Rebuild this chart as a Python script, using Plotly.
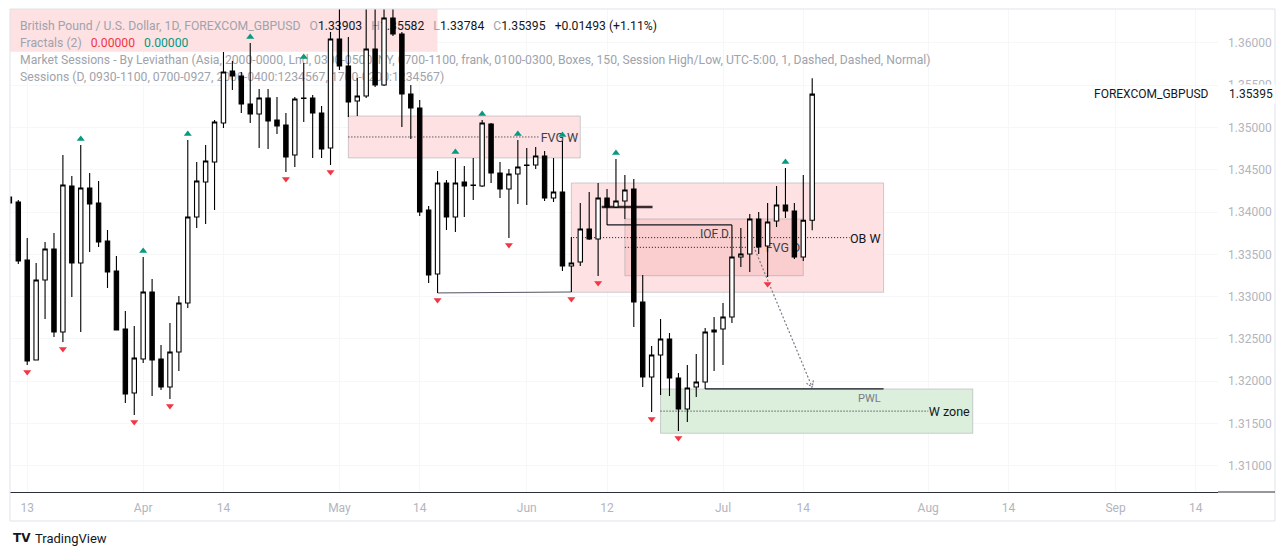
import math
import pandas as pd
import plotly.graph_objects as go

# ---------------- data (daily bars, FOREXCOM:GBPUSD) ----------------
open_ = [1.34178, 1.34119, 1.33433, 1.32250, 1.33196, 1.33563, 1.32581, 1.34308, 1.33397, 1.34285,
         1.34107, 1.33658, 1.33303, 1.32617, 1.31860, 1.32262, 1.33054, 1.32262, 1.31930, 1.32345,
         1.32924, 1.33942, 1.34356, 1.34592, 1.35054, 1.35669, 1.35610, 1.35278, 1.35160, 1.35349,
         1.35089, 1.35030, 1.34675, 1.35343, 1.35349, 1.35172, 1.34758, 1.36047, 1.35728, 1.35314,
         1.35373, 1.35929, 1.35503, 1.36296, 1.36106, 1.35397, 1.35231, 1.34024, 1.33267, 1.34344,
         1.33942, 1.34356, 1.34314, 1.34308, 1.35042, 1.34462, 1.34273, 1.34450, 1.34551, 1.34557,
         1.34663, 1.34166, 1.34237, 1.33362, 1.33409, 1.33800, 1.33681, 1.34166, 1.34060, 1.34131,
         1.34273, 1.32936, 1.32049, 1.32309, 1.32498, 1.32037, 1.31670, 1.31930, 1.31990, 1.32581,
         1.32617, 1.32759, 1.33468, 1.33504, 1.33918, 1.33599, 1.33894, 1.34084, 1.34013, 1.33468,
         1.33903]
high = [1.34190, 1.34143, 1.33693, 1.33397, 1.33646, 1.33752, 1.34675, 1.34427, 1.34793, 1.34462,
        1.34367, 1.33788, 1.33480, 1.32830, 1.32652, 1.33468, 1.33208, 1.32427, 1.32688, 1.33007,
        1.34852, 1.34592, 1.34793, 1.35089, 1.35894, 1.35787, 1.35657, 1.36000, 1.35456, 1.35456,
        1.35361, 1.35172, 1.35361, 1.35763, 1.35385, 1.35255, 1.36130, 1.36450, 1.36071, 1.35586,
        1.36450, 1.36450, 1.36450, 1.36450, 1.36130, 1.35503, 1.35326, 1.34072, 1.34486, 1.34379,
        1.34640, 1.34545, 1.34640, 1.35089, 1.35054, 1.34592, 1.34509, 1.34852, 1.34758, 1.34770,
        1.34722, 1.34640, 1.34841, 1.33705, 1.34107, 1.34237, 1.34344, 1.34273, 1.34628, 1.34438,
        1.34391, 1.33256, 1.32415, 1.32735, 1.32569, 1.32096, 1.32191, 1.32321, 1.32628, 1.32759,
        1.32924, 1.33847, 1.33811, 1.33977, 1.34001, 1.34107, 1.34308, 1.34521, 1.34107, 1.34438,
        1.35582]
low = [1.34095, 1.33386, 1.32191, 1.32245, 1.32735, 1.32522, 1.32463, 1.32995, 1.32581, 1.33528,
       1.33587, 1.33102, 1.32600, 1.31741, 1.31599, 1.32214, 1.31824, 1.31895, 1.31789, 1.32120,
       1.32865, 1.33811, 1.33859, 1.34024, 1.34994, 1.35444, 1.35172, 1.35054, 1.34758, 1.34746,
       1.34923, 1.34474, 1.34533, 1.35065, 1.34640, 1.34640, 1.34557, 1.35681, 1.35125, 1.35136,
       1.35349, 1.35479, 1.35491, 1.36083, 1.35006, 1.34864, 1.33953, 1.33161, 1.33043, 1.33788,
       1.33764, 1.33942, 1.34143, 1.34296, 1.34344, 1.34166, 1.33693, 1.34095, 1.34084, 1.34509,
       1.34131, 1.34119, 1.33303, 1.33054, 1.33362, 1.33670, 1.33244, 1.33847, 1.34048, 1.33918,
       1.32640, 1.31930, 1.31635, 1.31836, 1.31824, 1.31410, 1.31516, 1.31812, 1.31907, 1.32120,
       1.32191, 1.32688, 1.33350, 1.33291, 1.33504, 1.33232, 1.33823, 1.33930, 1.33445, 1.33421,
       1.33784]
close = [1.34107, 1.33421, 1.32238, 1.33196, 1.33563, 1.32581, 1.34320, 1.33397, 1.34285, 1.34095,
         1.33646, 1.33291, 1.32605, 1.31848, 1.32274, 1.33054, 1.32250, 1.31930, 1.32345, 1.32924,
         1.33942, 1.34367, 1.34604, 1.35065, 1.35657, 1.35610, 1.35278, 1.35160, 1.35349, 1.35077,
         1.35018, 1.34651, 1.35338, 1.35349, 1.35172, 1.34746, 1.36047, 1.35728, 1.35302, 1.35373,
         1.35929, 1.35503, 1.36296, 1.36106, 1.35397, 1.35231, 1.34001, 1.33256, 1.34344, 1.33942,
         1.34344, 1.34308, 1.34320, 1.35054, 1.34462, 1.34273, 1.34450, 1.34533, 1.34557, 1.34663,
         1.34166, 1.34237, 1.33362, 1.33397, 1.33800, 1.33681, 1.34166, 1.34060, 1.34131, 1.34261,
         1.32936, 1.32049, 1.32309, 1.32498, 1.32037, 1.31670, 1.31919, 1.31990, 1.32581, 1.32605,
         1.32759, 1.33468, 1.33504, 1.33918, 1.33587, 1.33882, 1.34084, 1.34013, 1.33468, 1.33902,
         1.35395]

# trading-day calendar (bars + empty future space on the right)
first_session = "2026-03-11"
calendar = pd.bdate_range(first_session, periods=140)
tick_dates = ["2026-03-13", "2026-04-01", "2026-04-14", "2026-05-01", "2026-05-14", "2026-06-01",
              "2026-06-12", "2026-07-01", "2026-07-14", "2026-08-03", "2026-08-14", "2026-09-01",
              "2026-09-14"]
tick_labels = ["13", "Apr", "14", "May", "14", "Jun", "12", "Jul", "14", "Aug", "14", "Sep", "14"]
price_ticks = [1.31, 1.315, 1.32, 1.325, 1.33, 1.335, 1.34, 1.345, 1.35, 1.355, 1.36]

# Williams fractal bars (bar index)
fractal_up = [8, 15, 20, 27, 33, 50, 53, 57, 62, 68, 87]
fractal_down = [2, 6, 14, 18, 31, 36, 48, 56, 63, 66, 72, 75, 85]

# zone drawings: (first bar, last bar, top price, bottom price)
legend_zone = (-5, 48, 1.37000, 1.35897)
fvg_w = (38, 64, 1.35136, 1.34640)
ob_w = (63, 98, 1.34344, 1.33051)
fvg_d = (69, 89, 1.33918, 1.33247)
w_zone = (73, 108, low[78], 1.31383)
pwl_span = (78, 98)
sweep_bars = (48, 63)
iof_bars = (67, 81)
session_line = (66.4, 72.1, close[67])
arrow_from = (83.6, 1.33551)
arrow_to = (90.0, 1.31927)

# ---------------- layout geometry ----------------
# the page body has an 8px margin, so the figure is a bit smaller than the window
BODY = 8
W, H = 1270, 540
ML, MR, MT, MB = 2, 60, 1, 56
PW, PH = W - ML - MR, H - MT - MB
PL, PT = ML + BODY, MT + BODY          # window position of plot top-left
x_range = [0.07, 135.49]
y_range = [1.30688, 1.36402]
ppx = PW / (x_range[1] - x_range[0])      # pixels per bar
ppy = PH / (y_range[1] - y_range[0])      # pixels per price unit

FONT = "Roboto"
DARK = "#131722"
GREY = "#a0a3ab"
RED = "#f23645"
GREEN = "#089981"
PINK = "#fde1e3"
PINK2 = "#facdce"
ZGREEN = "#dcefdc"
BORDER = "rgba(150,150,160,0.45)"

pos = {d.strftime("%Y-%m-%d"): k for k, d in enumerate(calendar)}
tickvals = [pos[d] for d in tick_dates]
xs = list(range(len(open_)))


def px2paper_x(px):
    return (px - PL) / PW


def px2paper_y(py):
    return (PT + PH - py) / PH


def px2bar(px):
    return x_range[0] + (px - PL) / ppx


def py2price(py):
    return y_range[1] - (py - PT) / ppy


shapes = []


def zone(z, fill, line=True):
    x0, x1, top, bot = z
    shapes.append(dict(type="rect", xref="x", yref="y", x0=x0, x1=x1, y0=bot, y1=top,
                       fillcolor=fill, layer="between",
                       line=dict(color=BORDER if line else "rgba(0,0,0,0)", width=1 if line else 0)))


def seg(x0, y0, x1, y1, color=DARK, width=1, dash="solid"):
    shapes.append(dict(type="line", xref="x", yref="y", x0=x0, x1=x1, y0=y0, y1=y1,
                       layer="between", line=dict(color=color, width=width, dash=dash)))


def hline(x0, x1, y, color=DARK, width=1, dash="solid"):
    seg(x0, y, x1, y, color, width, dash)


def label_right(x_right, y, text, size=13, color=DARK):
    shapes.append(dict(type="rect", xref="x", yref="y", x0=x_right - 1, x1=x_right,
                       y0=y - 0.0002, y1=y + 0.0002, fillcolor="rgba(0,0,0,0)",
                       line=dict(width=0), layer="between",
                       label=dict(text=text, textposition="middle right", padding=0,
                                  font=dict(family=FONT, size=size, color=color))))


def legend_line(py, text, size=12.2):
    shapes.append(dict(type="rect", xref="x", yref="y",
                       x0=px2bar(16), x1=px2bar(1000),
                       y0=py2price(py + 6), y1=py2price(py - 6),
                       fillcolor="rgba(0,0,0,0)", line=dict(width=0), layer="between",
                       label=dict(text=text, textposition="middle left", padding=1,
                                  font=dict(family=FONT, size=size, color=GREY))))


DOT = "1px,2px"

# zones
zone(legend_zone, PINK, line=False)
zone(fvg_w, PINK)
zone(ob_w, PINK)
zone(fvg_d, PINK2)
zone(w_zone, ZGREEN)

# mid lines of zones (dotted) and labels
hline(fvg_w[0], 59.3, (fvg_w[2] + fvg_w[3]) / 2, dash=DOT)
label_right(64.1, (fvg_w[2] + fvg_w[3]) / 2, "FVG W", size=12.5, color="#3b3f4a")
hline(63.2, 94.2, (ob_w[2] + ob_w[3]) / 2, dash=DOT)
label_right(98.0, (ob_w[2] + ob_w[3]) / 2, "OB W", size=12.5)
hline(fvg_d[0], 84.1, (fvg_d[2] + fvg_d[3]) / 2, dash=DOT)
label_right(89.0, (fvg_d[2] + fvg_d[3]) / 2, "FVG D", size=12.5, color="#3b3f4a")
hline(w_zone[0], 103.0, (w_zone[2] + w_zone[3]) / 2, dash=DOT)
label_right(108.0, (w_zone[2] + w_zone[3]) / 2, "W zone", size=12.5)

# structure lines
seg(sweep_bars[0], low[sweep_bars[0]], sweep_bars[1], low[sweep_bars[1]], color="#50535e", width=1)
hline(iof_bars[0], iof_bars[1], low[iof_bars[0]], color=DARK, width=1.3)
label_right(81.0, 1.33752, "IOF D", size=12, color="#3b3f4a")
hline(session_line[0], session_line[1], session_line[2], color="#3a2c2c", width=2.6)
hline(pwl_span[0], pwl_span[1], low[pwl_span[0]], color=DARK, width=1.3)
label_right(98.0, low[pwl_span[0]] - 9 / ppy, "PWL", size=11, color="#787b86")

# dotted arrow
seg(arrow_from[0], arrow_from[1], arrow_to[0], arrow_to[1], color="#787b86", width=1.2, dash="2px,2px")
dxp = (arrow_to[0] - arrow_from[0]) * ppx
dyp = -(arrow_to[1] - arrow_from[1]) * ppy
ln = (dxp ** 2 + dyp ** 2) ** 0.5
ux, uy = dxp / ln, dyp / ln
for ang in (math.radians(32), -math.radians(32)):
    rx = ux * math.cos(ang) - uy * math.sin(ang)
    ry = ux * math.sin(ang) + uy * math.cos(ang)
    hx = arrow_to[0] - 7 * rx / ppx
    hy = arrow_to[1] + 7 * ry / ppy
    seg(hx, hy, arrow_to[0], arrow_to[1], color="#787b86", width=1.2, dash="2px,1px")

# legend text (under the candles, like the reference)
sp = "\u00a0\u00a0 "


def dk(v):
    return f"<span style='color:{DARK}'>{v}</span>"


chg = close[-1] - close[-2]
pct = chg / close[-2] * 100
legend_line(25, "British Pound / U.S. Dollar, 1D, FOREXCOM_GBPUSD" + sp +
            "O" + dk(f"{open_[-1]:.5f}") + sp + "H" + dk(f"{high[-1]:.5f}") + sp +
            "L" + dk(f"{low[-1]:.5f}") + sp + "C" + dk(f"{close[-1]:.5f}") + sp +
            dk(f"{chg:+.5f} ({pct:+.2f}%)"))
legend_line(42, "Fractals (2)" + sp + f"<span style='color:{RED}'>0.00000</span>" + sp +
            f"<span style='color:{GREEN}'>0.00000</span>")
legend_line(59, "Market Sessions - By Leviathan (Asia, 2000-0000, Lnd, 0300-0500, NY, 0700-1100, "
                "frank, 0100-0300, Boxes, 150, Session High/Low, UTC-5:00, 1, Dashed, Dashed, Normal)")
legend_line(76, "Sessions (D, 0930-1100, 0700-0927, 2000-0400:1234567, 1700-0200:1234567)")

# chart frame and axis line extension
shapes.append(dict(type="rect", xref="paper", yref="paper", x0=0, x1=px2paper_x(1275),
                   y0=px2paper_y(521), y1=1, line=dict(color="#e0e3eb", width=1),
                   fillcolor="rgba(0,0,0,0)", layer="above"))
shapes.append(dict(type="line", xref="paper", yref="paper", x0=1, x1=px2paper_x(1275),
                   y0=0, y1=0, line=dict(color="#2a2e39", width=1), layer="above"))

fig = go.Figure()
fig.add_trace(go.Candlestick(
    x=xs, open=open_, high=high, low=low, close=close,
    increasing=dict(line=dict(color="#000000", width=1.1), fillcolor="#ffffff"),
    decreasing=dict(line=dict(color="#000000", width=1.1), fillcolor="#000000"),
    whiskerwidth=0, showlegend=False, hoverinfo="skip"))

fig.add_trace(go.Scatter(
    x=fractal_up, y=[high[i] + 6 / ppy for i in fractal_up], mode="markers",
    marker=dict(symbol="triangle-up", size=7, color=GREEN, line=dict(width=0)),
    showlegend=False, hoverinfo="skip"))
fig.add_trace(go.Scatter(
    x=fractal_down, y=[low[i] - 7 / ppy for i in fractal_down], mode="markers",
    marker=dict(symbol="triangle-down", size=7, color=RED, line=dict(width=0)),
    showlegend=False, hoverinfo="skip"))

annotations = [
    dict(xref="paper", yref="y", x=1 + 8 / PW, y=close[-1], xanchor="left", yanchor="middle",
         text=f"{close[-1]:.5f}", showarrow=False, bgcolor="#ffffff", borderpad=2,
         font=dict(family=FONT, size=12, color=DARK)),
    dict(xref="paper", yref="y", x=px2paper_x(1211), y=close[-1], xanchor="right",
         yanchor="middle", text="FOREXCOM_GBPUSD", showarrow=False,
         font=dict(family=FONT, size=12, color=DARK)),
    dict(xref="paper", yref="paper", x=px2paper_x(11), y=px2paper_y(538), xanchor="left",
         yanchor="middle", text="<b>TV</b>", showarrow=False,
         font=dict(family="DejaVu Sans", size=12, color=DARK)),
    dict(xref="paper", yref="paper", x=px2paper_x(33), y=px2paper_y(538), xanchor="left",
         yanchor="middle", text="TradingView", showarrow=False,
         font=dict(family=FONT, size=13, color=DARK)),
]

fig.update_layout(
    width=W, height=H, margin=dict(l=ML, r=MR, t=MT, b=MB),
    paper_bgcolor="#ffffff", plot_bgcolor="#ffffff",
    boxgap=0.3, hovermode=False, showlegend=False,
    shapes=shapes, annotations=annotations,
    font=dict(family=FONT, size=12, color=DARK),
    xaxis=dict(range=x_range, tickmode="array", tickvals=tickvals, ticktext=tick_labels,
               showgrid=True, gridcolor="#f6f7f9", zeroline=False, showline=True,
               linecolor="#2a2e39", linewidth=1, ticks="", ticklabelstandoff=5,
               tickfont=dict(family=FONT, size=12, color="#b2b5be"),
               rangeslider=dict(visible=False), fixedrange=True),
    yaxis=dict(range=y_range, side="right", tickmode="array", tickvals=price_ticks,
               ticktext=[f"{v:.5f}" for v in price_ticks],
               showgrid=True, gridcolor="#f6f7f9", zeroline=False, showline=False,
               ticks="", ticklabelstandoff=9,
               tickfont=dict(family=FONT, size=12, color="#b2b5be"), fixedrange=True),
)

fig.write_html("out.html")
